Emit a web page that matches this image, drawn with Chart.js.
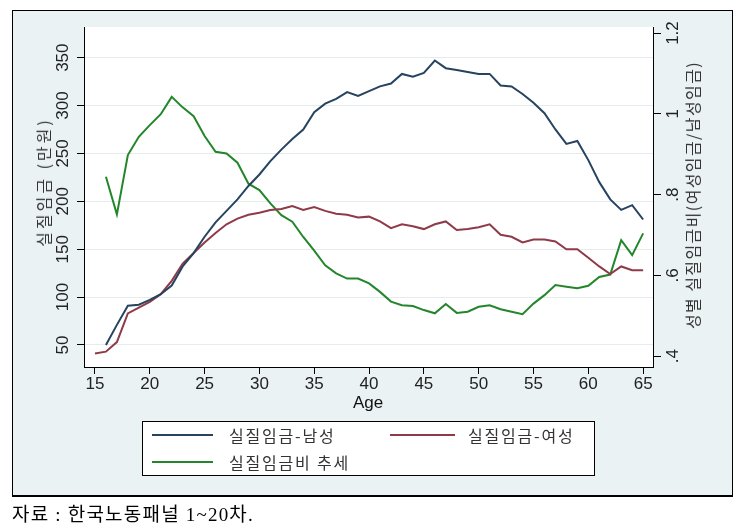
<!DOCTYPE html>
<html><head><meta charset="utf-8">
<script src="https://cdn.jsdelivr.net/npm/chart.js@4.4.1/dist/chart.umd.min.js"></script>
<style>
html,body{margin:0;padding:0;background:#fff;width:741px;height:528px;overflow:hidden;font-family:"Liberation Sans",Arial,sans-serif;}
#frame{position:absolute;left:12px;top:10px;width:719px;height:484px;border:1px solid #000;border-bottom:2px solid #000;background:#eaf2f3;}
#c{position:absolute;left:0;top:0;}
.rt{position:absolute;white-space:nowrap;transform:translate(-50%,-50%) rotate(-90deg);font-family:"Noto Sans CJK KR",sans-serif;font-size:16px;color:#333;letter-spacing:1.4px;line-height:20px;}
#age{position:absolute;left:368px;top:403px;transform:translate(-50%,-50%);font-size:17px;color:#111;}
#legend{position:absolute;left:142px;top:421px;width:451px;height:53px;border:1px solid #000;background:#fff;}
.sw{position:absolute;height:2px;}
.lt{position:absolute;height:20px;line-height:20px;font-family:"Noto Sans CJK KR",sans-serif;font-size:16px;letter-spacing:1.8px;color:#333;white-space:nowrap;}
#src{position:absolute;left:12px;top:503px;font-family:"Liberation Serif","Noto Sans CJK KR",serif;font-size:19px;line-height:24px;letter-spacing:1.2px;color:#000;white-space:nowrap;}
</style></head>
<body>
<div id="frame"></div>
<div id="legend"></div>
<canvas id="c" width="741" height="528"></canvas>
<div class="rt" style="left:43px;top:182px;letter-spacing:3px;">실질임금 (만원)</div>
<div class="rt" style="left:692px;top:195px;">성별 실질임금비(여성임금/남성임금)</div>
<div id="age">Age</div>
<div class="sw" style="left:152px;top:434px;width:61px;background:#26435f;"></div>
<div class="lt" style="left:229px;top:425px;">실질임금-남성</div>
<div class="sw" style="left:390px;top:434px;width:65px;background:#8e3a48;"></div>
<div class="lt" style="left:468px;top:425px;">실질임금-여성</div>
<div class="sw" style="left:152px;top:461px;width:61px;background:#23862a;"></div>
<div class="lt" style="left:229px;top:452px;">실질임금비 추세</div>
<div id="src">자료 : 한국노동패널 1~20차.</div>
<script>
const ages = [15,16,17,18,19,20,21,22,23,24,25,26,27,28,29,30,31,32,33,34,35,36,37,38,39,40,41,42,43,44,45,46,47,48,49,50,51,52,53,54,55,56,57,58,59,60,61,62,63,64,65];
const maleWage = [null,50,71,91,92,97,103,112,132,146,163,178,190,202,216,228,242,254,265,275,293,302,307,314,310,315,320,323,333,330,334,347,339,337,335,333,333,321,320,312,303,292,275,260,263,243,220,202,191,196,181];
const femaleWage = [41,43,53,83,89,95,103,117,135,146,157,167,176,182,186,188,191,192,195,191,194,190,187,186,183,184,179,172,176,174,171,176,179,170,171,173,176,165,163,157,160,160,158,150,150,141,132,124,132,128,128];
const wageRatio = [null,0.844,0.751,0.898,0.943,0.972,0.999,1.042,1.016,0.994,0.945,0.906,0.902,0.879,0.827,0.811,0.778,0.749,0.733,0.695,0.661,0.625,0.605,0.592,0.592,0.580,0.559,0.535,0.526,0.524,0.514,0.506,0.529,0.507,0.510,0.522,0.526,0.516,0.510,0.504,0.530,0.551,0.576,0.572,0.568,0.574,0.596,0.602,0.687,0.650,0.704];
const xTicks = [15,20,25,30,35,40,45,50,55,60,65];
const leftTicks = [50,100,150,200,250,300,350];
const rightTicks = [0.4,0.6,0.8,1.0,1.2];
const rightTickLabels = ['.4','.6','.8','1','1.2'];
const seriesNames = ['실질임금-남성','실질임금-여성','실질임금비 추세'];

const pts = arr => ages.map((a,i)=>({x:a,y:arr[i]}));

const plotBg = {id:'plotBg', beforeDraw(chart){
  const {ctx, chartArea:a} = chart;
  ctx.save(); ctx.fillStyle='#fff';
  ctx.fillRect(a.left,a.top,a.right-a.left,a.bottom-a.top);
  ctx.restore();
}};
const yLabels = {id:'yLabels', afterDraw(chart){
  const ctx = chart.ctx;
  ctx.save();
  ctx.font = '17px "Liberation Sans", Arial, sans-serif';
  ctx.fillStyle = '#222';
  ctx.textAlign = 'center';
  ctx.textBaseline = 'middle';
  const ys = chart.scales.y;
  leftTicks.forEach(v=>{
    const py = ys.getPixelForValue(v);
    ctx.save(); ctx.translate(ys.right-21, py); ctx.rotate(-Math.PI/2);
    ctx.fillText(String(v),0,0); ctx.restore();
  });
  const yr = chart.scales.y1;
  rightTicks.forEach((v,i)=>{
    const py = yr.getPixelForValue(v);
    ctx.save(); ctx.translate(yr.left+20, py); ctx.rotate(-Math.PI/2);
    ctx.fillText(rightTickLabels[i],0,0); ctx.restore();
  });
  ctx.restore();
}};

new Chart(document.getElementById('c'), {
  type:'line',
  data:{datasets:[
    {label:seriesNames[0], data:pts(maleWage), yAxisID:'y', borderColor:'#26435f', borderWidth:2, pointRadius:0, tension:0, fill:false},
    {label:seriesNames[1], data:pts(femaleWage), yAxisID:'y', borderColor:'#8e3a48', borderWidth:2, pointRadius:0, tension:0, fill:false},
    {label:seriesNames[2], data:pts(wageRatio), yAxisID:'y1', borderColor:'#23862a', borderWidth:2, pointRadius:0, tension:0, fill:false}
  ]},
  options:{
    responsive:false, animation:false, devicePixelRatio:1,
    layout:{padding:{top:27,left:0,right:0,bottom:0}},
    plugins:{legend:{display:false}, tooltip:{enabled:false}},
    scales:{
      x:{type:'linear', position:'bottom', min:14, max:65.9,
        afterBuildTicks:s=>{s.ticks = xTicks.map(v=>({value:v}));},
        afterFit:s=>{s.height = 161;},
        ticks:{font:{size:17, family:'"Liberation Sans", Arial, sans-serif'}, color:'#222', padding:0, autoSkip:false, maxRotation:0, minRotation:0},
        grid:{drawOnChartArea:false, drawTicks:true, tickLength:7, tickColor:'#000'},
        border:{color:'#000', width:1}
      },
      y:{type:'linear', position:'left', min:27, max:382,
        afterBuildTicks:s=>{s.ticks = leftTicks.map(v=>({value:v}));},
        afterFit:s=>{s.width = 84;},
        ticks:{display:false},
        grid:{color:'#e4ecee', lineWidth:1, drawTicks:true, tickLength:7, tickColor:'#000'},
        border:{color:'#000', width:1}
      },
      y1:{type:'linear', position:'right', min:0.373, max:1.215,
        afterBuildTicks:s=>{s.ticks = rightTicks.map(v=>({value:v}));},
        afterFit:s=>{s.width = 88;},
        ticks:{display:false},
        grid:{drawOnChartArea:false, drawTicks:true, tickLength:8, tickColor:'#000'},
        border:{color:'#000', width:1}
      }
    }
  },
  plugins:[plotBg, yLabels]
});
</script>
</body></html>
